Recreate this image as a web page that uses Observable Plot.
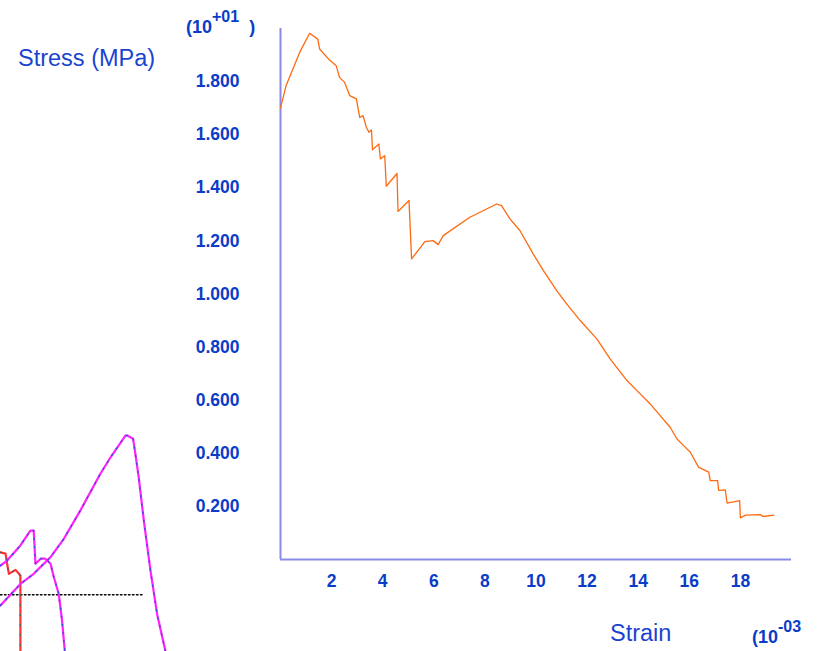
<!DOCTYPE html>
<html><head><meta charset="utf-8">
<script src="https://cdn.jsdelivr.net/npm/d3@7"></script>
<script src="https://cdn.jsdelivr.net/npm/@observablehq/plot@0.6"></script>
<style>
html,body{margin:0;padding:0;background:#fff;}
#wrap{position:relative;width:824px;height:651px;overflow:hidden;font-family:"Liberation Sans",Arial,sans-serif;}
#wrap svg{position:absolute;left:0;top:0;overflow:visible;}
.lbl{position:absolute;color:#1a44d0;white-space:nowrap;}
.exp{position:absolute;color:#0a3cc8;font-weight:bold;font-size:18px;white-space:nowrap;}
.exp sup{font-size:16px;position:relative;top:-4px;}
</style></head>
<body><div id="wrap"></div>
<script>
// Main curve: strain (x10^-3) vs stress (x10^1 MPa)
const strain = [0,0.22,0.75,1.14,1.46,1.53,1.92,2.18,2.31,2.51,2.71,2.97,3.10,3.23,3.36,3.46,3.56,3.60,3.85,3.91,4.08,4.14,4.56,4.60,5.03,5.13,5.65,5.97,6.17,6.37,7.41,8.46,8.65,8.98,9.37,9.89,10.29,10.81,11.20,11.73,12.38,12.90,13.56,13.95,14.47,14.86,15.25,15.52,15.78,16.04,16.36,16.76,16.82,17.11,17.15,17.41,17.48,17.97,18.00,18.20,18.78,18.89,19.31];
const stress = [1.701,1.785,1.910,1.982,1.960,1.923,1.881,1.860,1.816,1.797,1.747,1.735,1.665,1.672,1.628,1.609,1.618,1.543,1.565,1.509,1.521,1.406,1.454,1.311,1.352,1.132,1.197,1.201,1.186,1.220,1.289,1.339,1.333,1.283,1.239,1.151,1.088,1.013,0.963,0.900,0.831,0.756,0.674,0.636,0.586,0.542,0.498,0.454,0.429,0.404,0.348,0.329,0.297,0.297,0.260,0.262,0.212,0.222,0.157,0.167,0.169,0.162,0.167];

// Overlapping fragments of other curves visible at bottom-left
const fragAx = [-10.96,-10.18,-9.66,-9.00,-8.48,-7.83,-7.05,-6.65,-6.07,-6.00,-5.77,-5.68,-5.55,-5.35,-5.09,-4.83,-4.50];
const fragAy = [-0.173,-0.092,-0.054,0.009,0.078,0.185,0.323,0.385,0.467,0.467,0.455,0.398,0.310,0.147,-0.041,-0.205,-0.347];
const fragBx = [-10.96,-10.70,-10.18,-9.79,-9.66,-9.59,-9.39,-9.20,-9.00,-8.87,-8.68,-8.55,-8.44];
const fragBy = [-0.023,-0.004,0.053,0.109,0.109,-0.016,0.003,0.003,-0.016,-0.067,-0.129,-0.230,-0.347];
const fragCx = [-10.96,-10.76,-10.70,-10.63,-10.37,-10.18,-10.18];
const fragCy = [0.027,0.022,-0.016,-0.054,-0.039,-0.060,-0.347];
const refLineX = [-10.96,-5.35];
const refLineY = [-0.133,-0.133];

const yTicks = [0.2,0.4,0.6,0.8,1.0,1.2,1.4,1.6,1.8];
const xTicks = [2,4,6,8,10,12,14,16,18];

const main = strain.map((x,i)=>({x, y: stress[i]}));
const fragA = fragAx.map((x,i)=>({x, y: fragAy[i]}));
const fragB = fragBx.map((x,i)=>({x, y: fragBy[i]}));
const fragC = fragCx.map((x,i)=>({x, y: fragCy[i]}));
const refL = refLineX.map((x,i)=>({x, y: refLineY[i]}));

const axisColor = "#8a8ae8";
const tickColor = "#0a3cc8";

const chart = Plot.plot({
  width: 824, height: 651,
  marginLeft: 280, marginRight: 33, marginTop: 28, marginBottom: 92,
  x: {domain: [0,20]},
  y: {domain: [0,2]},
  style: {fontFamily: "Liberation Sans, Arial, sans-serif", background: "transparent"},
  marks: [
    Plot.ruleX([0], {y1: 0, y2: 2, stroke: axisColor, strokeWidth: 2}),
    Plot.ruleY([0], {x1: 0, x2: 20, stroke: axisColor, strokeWidth: 2}),
    Plot.axisY({ticks: yTicks, tickSize: 0, tickPadding: 41, tickFormat: d3.format(".3f"), label: null, fill: tickColor, fontWeight: "bold", fontSize: 17.5}),
    Plot.axisX({ticks: xTicks, tickSize: 0, tickPadding: 15, tickFormat: d => String(d), label: null, fill: tickColor, fontWeight: "bold", fontSize: 17.5}),
    Plot.line(refL, {x: "x", y: "y", stroke: "#000", strokeWidth: 1.5, strokeDasharray: "1.5,2.5"}),
    Plot.line(fragC, {x: "x", y: "y", stroke: "#ff3333", strokeWidth: 2.2}),
    Plot.line(fragC, {x: "x", y: "y", stroke: "#555", strokeWidth: 1.2, strokeDasharray: "1,9"}),
    Plot.line(fragB, {x: "x", y: "y", stroke: "#ff22ff", strokeWidth: 2.2}),
    Plot.line(fragB, {x: "x", y: "y", stroke: "#3050e0", strokeWidth: 1.4, strokeDasharray: "1.2,7"}),
    Plot.line(fragA, {x: "x", y: "y", stroke: "#ff22ff", strokeWidth: 2.2}),
    Plot.line(fragA, {x: "x", y: "y", stroke: "#3050e0", strokeWidth: 1.4, strokeDasharray: "1.2,7"}),
    Plot.line(main, {x: "x", y: "y", stroke: "#ff6a10", strokeWidth: 1.3})
  ]
});
const wrap = document.getElementById("wrap");
wrap.appendChild(chart);

const add = (html, cls, left, top, size) => {
  const d = document.createElement("div");
  d.className = cls; d.innerHTML = html;
  d.style.left = left + "px"; d.style.top = top + "px";
  if (size) d.style.fontSize = size + "px";
  wrap.appendChild(d);
};
add("Stress (MPa)", "lbl", 18, 45, 23.5);
add("Strain", "lbl", 610, 620, 23.5);
add("(10<sup>+01</sup>&nbsp;&nbsp;)", "exp", 186, 12);
add("(10<sup>-03</sup>", "exp", 752, 622);
</script></body></html>
